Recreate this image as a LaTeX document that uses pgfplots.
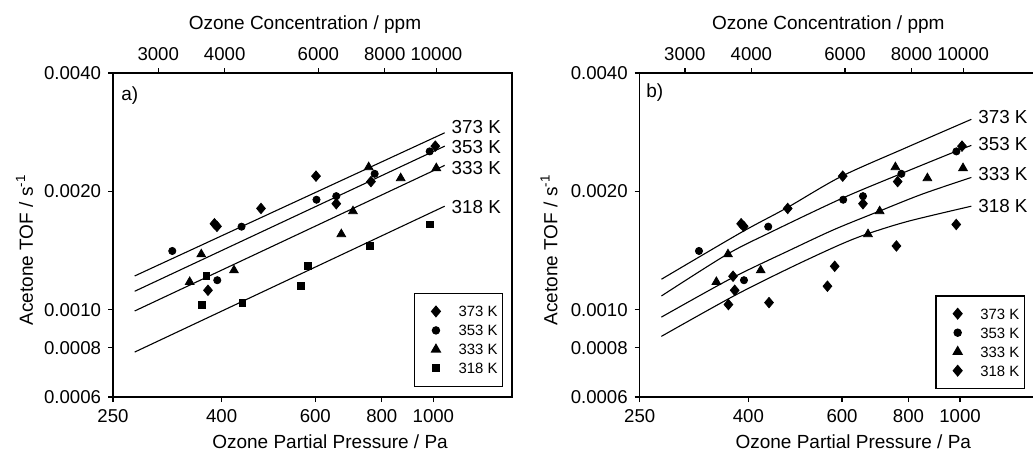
\documentclass[border=0pt]{standalone}
\usepackage{fontspec}
\setmainfont{Liberation Sans}
\usepackage{pgfplots}
\pgfplotsset{compat=1.18}
\tikzset{
  mkD/.style={only marks, mark=diamond*, mark size=2.6pt, mark options={fill=black, draw=black, xscale=1.12}},
  mkC/.style={only marks, mark=*, mark size=1.8pt, mark options={fill=black, draw=black}},
  mkT/.style={only marks, mark=triangle*, mark size=2.5pt, mark options={fill=black, draw=black}},
  mkS/.style={only marks, mark=square*, mark size=1.7pt, mark options={fill=black, draw=black}},
  lab/.style={anchor=west, inner sep=0pt, xshift=3.3pt, font=\fontsize{9.4}{11}\selectfont},
}
\begin{document}
\begin{tikzpicture}
\useasboundingbox (-56.5pt,-27.5pt) rectangle (460pt,198.5pt);
% ---------------- panel a ----------------
\begin{axis}[scale only axis, height=162pt, width=199.5pt, anchor=south west, at={(0pt,0pt)},
    xmode=log, ymode=log,
    xmin=250, xmax=1405.6, ymin=0.0006, ymax=0.004,
    xtick={250,400,600,800,1000},
    xticklabels={250,400,600,800,1000},
    ytick={0.0006,0.0008,0.001,0.002,0.004},
    yticklabels={0.0006,0.0008,0.0010,0.0020,0.0040},
    xminorticks=false, yminorticks=false,
    xtick pos=bottom, ytick pos=left,
    tick align=outside, major tick length=2.5pt,
    axis line style={line width=0.7pt},
    tick style={black, line width=0.6pt},
    font=\fontsize{9.5}{11}\selectfont,
    ticklabel style={font=\fontsize{9.3}{11}\selectfont},
    xlabel={Ozone Partial Pressure / Pa},
    ylabel={Acetone TOF / s\textsuperscript{-1}},
    xlabel style={at={(axis description cs:0.544,-0.138)}, anchor=center},
    ylabel style={at={(axis description cs:-0.2218,0.454)}, anchor=center},
    clip=false,
    legend cell align=left,
    legend image code/.code={\path[draw=none, fill=none] (-8.4pt,0pt) -- (8.4pt,0pt); \draw[#1] plot coordinates {(0pt,0pt)};},
    legend style={at={(rel axis cs:0.9774,0.0318)}, anchor=south east,
      draw=black, line width=0.6pt, inner xsep=2.4pt, inner ysep=6.15pt,
      row sep=4.1pt, column sep=2.95pt,
      nodes={inner sep=0pt, text height=5.4pt, text depth=0pt, font=\fontsize{7.45}{9}\selectfont}}]
\addplot[mkD] coordinates {(387.8,0.001655) (392.1,0.001630) (474.3,0.001810) (601.8,0.002187) (657.0,0.001861) (763.5,0.002118) (1008.5,0.002607) (377.1,0.001121)};
\addlegendentry{373 K}
\addplot[mkC] coordinates {(323.1,0.001411) (392.6,0.001189) (436.0,0.001627) (603.1,0.001905) (657.0,0.001945) (775.8,0.002217) (984.3,0.002528)};
\addlegendentry{353 K}
\addplot[mkT] coordinates {(348.4,0.001177) (366.3,0.001384) (422.0,0.001260) (671.4,0.001557) (706.3,0.001781) (755.9,0.002305) (868.2,0.002161) (1012.8,0.002292)};
\addlegendentry{333 K}
\addplot[mkS] coordinates {(367.0,0.001031) (374.4,0.001217) (437.5,0.001043) (563.3,0.001148) (581.3,0.001290) (759.3,0.001453) (983.5,0.001648)};
\addlegendentry{318 K}
\addplot[black, line width=0.55pt, forget plot] coordinates {(274.6,0.001219) (1050.3,0.002819)};
\addplot[black, line width=0.55pt, forget plot] coordinates {(274.6,0.0011145) (1050.3,0.002607)};
\addplot[black, line width=0.55pt, forget plot] coordinates {(274.6,0.000993) (1050.3,0.002329)};
\addplot[black, line width=0.55pt, forget plot] coordinates {(274.6,0.0007807) (1050.3,0.001834)};
\node[lab] at (axis cs:1050.3,0.0029146) {373 K};
\node[lab] at (axis cs:1050.3,0.0025917) {353 K};
\node[lab] at (axis cs:1050.3,0.0022915) {333 K};
\node[lab] at (axis cs:1050.3,0.001824) {318 K};
\node[anchor=west, inner sep=0pt] at (rel axis cs:0.02,0.93) {a)};
\end{axis}
\begin{axis}[scale only axis, height=162pt, width=199.5pt, anchor=south west, at={(0pt,0pt)},
  xmode=log, xmin=2467.25, xmax=13872, ymin=0, ymax=1,
  axis x line*=top, hide y axis,
  xtick={3000,4000,6000,8000,10000},
  xticklabels={3000,4000,6000,8000,10000},
  xminorticks=false,
  tick align=outside, major tick length=2.5pt,
  axis line style={line width=0.7pt},
  tick style={black, line width=0.6pt},
  font=\fontsize{9.5}{11}\selectfont,
  ticklabel style={font=\fontsize{9.3}{11}\selectfont},
  xlabel={Ozone Concentration / ppm},
  xlabel style={at={(axis description cs:0.481,1.148)}, anchor=center}]
\addplot[draw=none] coordinates {(3000,0.5) (9000,0.5)};
\end{axis}
% ---------------- panel b ----------------
\begin{axis}[scale only axis, height=162pt, width=196.65pt, anchor=south west, at={(263.35pt,0pt)},
    xmode=log, ymode=log,
    xmin=250, xmax=1371.2, ymin=0.0006, ymax=0.004,
    xtick={250,400,600,800,1000},
    xticklabels={250,400,600,800,1000},
    ytick={0.0006,0.0008,0.001,0.002,0.004},
    yticklabels={0.0006,0.0008,0.0010,0.0020,0.0040},
    xminorticks=false, yminorticks=false,
    axis x line*=bottom, axis y line*=left,
    tick align=outside, major tick length=2.5pt,
    axis line style={line width=0.7pt},
    tick style={black, line width=0.6pt},
    font=\fontsize{9.5}{11}\selectfont,
    ticklabel style={font=\fontsize{9.3}{11}\selectfont},
    xlabel={Ozone Partial Pressure / Pa},
    ylabel={Acetone TOF / s\textsuperscript{-1}},
    xlabel style={at={(axis description cs:0.543,-0.138)}, anchor=center},
    ylabel style={at={(axis description cs:-0.2306,0.454)}, anchor=center},
    clip=false,
    legend cell align=left,
    legend image code/.code={\path[draw=none, fill=none] (-8.4pt,0pt) -- (8.4pt,0pt); \draw[#1] plot coordinates {(0pt,0pt)};},
    legend style={at={(rel axis cs:0.9789,0.0248)}, anchor=south east,
      draw=black, line width=0.6pt, inner xsep=2.4pt, inner ysep=6.15pt,
      row sep=4.1pt, column sep=2.95pt,
      nodes={inner sep=0pt, text height=5.4pt, text depth=0pt, font=\fontsize{7.45}{9}\selectfont}}]
\addplot[mkD] coordinates {(387.8,0.001655) (392.1,0.001630) (474.3,0.001810) (601.8,0.002187) (657.0,0.001861) (763.5,0.002118) (1008.5,0.002607) (377.1,0.001121)};
\addlegendentry{373 K}
\addplot[mkC] coordinates {(323.1,0.001411) (392.6,0.001189) (436.0,0.001627) (603.1,0.001905) (657.0,0.001945) (775.8,0.002217) (984.3,0.002528)};
\addlegendentry{353 K}
\addplot[mkT] coordinates {(348.4,0.001177) (366.3,0.001384) (422.0,0.001260) (671.4,0.001557) (706.3,0.001781) (755.9,0.002305) (868.2,0.002161) (1012.8,0.002292)};
\addlegendentry{333 K}
\addplot[mkD] coordinates {(367.0,0.001031) (374.4,0.001217) (437.5,0.001043) (563.3,0.001148) (581.3,0.001290) (759.3,0.001453) (983.5,0.001648)};
\addlegendentry{318 K}
\addplot[black, line width=0.55pt, forget plot, smooth] coordinates {(274.6,0.0011957) (387,0.00157) (472,0.001815) (597,0.00218) (790,0.00258) (1050,0.00305)};
\addplot[black, line width=0.55pt, forget plot, smooth] coordinates {(274.6,0.0010842) (365.2,0.0013844) (440.7,0.0015749) (598.2,0.0019167) (773.5,0.0022167) (981.3,0.0025276) (1050,0.0026178)};
\addplot[black, line width=0.55pt, forget plot, smooth] coordinates {(274.6,0.000958) (372,0.001203) (480,0.00142) (580,0.00160) (704,0.00178) (850,0.00197) (1050,0.00217)};
\addplot[black, line width=0.55pt, forget plot, smooth] coordinates {(274.6,0.000856) (376,0.001085) (480,0.00128) (592,0.00146) (670,0.00156) (800,0.00168) (1050,0.001834)};
\node[lab] at (axis cs:1050,0.0030906) {373 K};
\node[lab] at (axis cs:1050,0.0026428) {353 K};
\node[lab] at (axis cs:1050,0.0022167) {333 K};
\node[lab] at (axis cs:1050,0.001834) {318 K};
\node[anchor=west, inner sep=0pt] at (rel axis cs:0.016,0.94) {b)};
\end{axis}
\begin{axis}[scale only axis, height=162pt, width=196.65pt, anchor=south west, at={(263.35pt,0pt)},
  xmode=log, xmin=2467.25, xmax=13532, ymin=0, ymax=1,
  axis x line*=top, hide y axis,
  xtick={3000,4000,6000,8000,10000},
  xticklabels={3000,4000,6000,8000,10000},
  xminorticks=false,
  tick align=outside, major tick length=2.5pt,
  axis line style={line width=0.7pt},
  tick style={black, line width=0.6pt},
  font=\fontsize{9.5}{11}\selectfont,
  ticklabel style={font=\fontsize{9.3}{11}\selectfont},
  xlabel={Ozone Concentration / ppm},
  xlabel style={at={(axis description cs:0.4795,1.148)}, anchor=center}]
\addplot[draw=none] coordinates {(3000,0.5) (9000,0.5)};
\end{axis}
\end{tikzpicture}
\end{document}
